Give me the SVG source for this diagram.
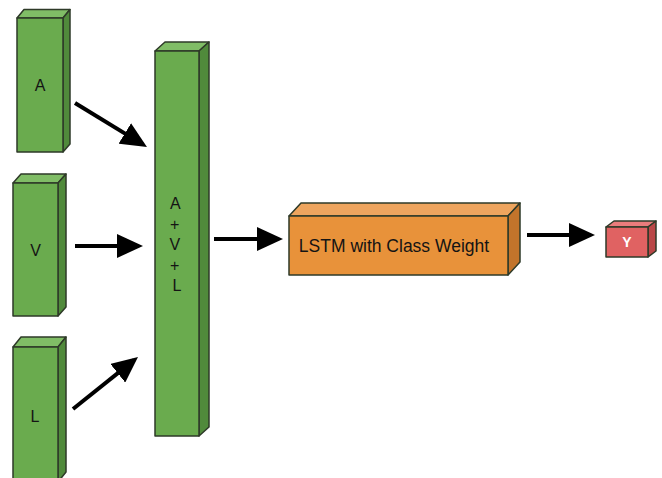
<svg xmlns="http://www.w3.org/2000/svg" width="662" height="478" viewBox="0 0 662 478">
  <style>
    .edge { stroke: #2e3a28; stroke-width: 1.5; stroke-linejoin: round; }
    .g-front { fill: #6aab4e; }
    .g-top { fill: #80bd66; }
    .g-side { fill: #508a3b; }
    .o-front { fill: #e8923a; }
    .o-top { fill: #eea55e; }
    .o-side { fill: #c2742b; }
    .r-front { fill: #e06262; }
    .r-top { fill: #ea7c7c; }
    .r-side { fill: #b94747; }
    .lbl { font-family: "Liberation Sans", Arial, sans-serif; fill: #141414; text-anchor: middle; }
    .arrow { stroke: #000; stroke-width: 4; fill: none; marker-end: url(#head); }
  </style>
  <defs>
    <marker id="head" markerUnits="userSpaceOnUse" markerWidth="28" markerHeight="24" refX="21" refY="12" orient="auto">
      <path d="M0,0 L26,12 L0,24 z" fill="#000"/>
    </marker>
  </defs>
  <rect width="662" height="478" fill="#ffffff"/>

  <!-- input block A -->
  <g id="node-a">
    <path class="g-top edge" d="M17,18 L24,9.5 L70,9.5 L63,18 z"/>
    <path class="g-side edge" d="M63,18 L70,9.5 L70,144 L63,152 z"/>
    <rect class="g-front edge" x="17" y="18" width="46" height="134"/>
    <text class="lbl" x="40" y="91" font-size="16">A</text>
  </g>

  <!-- input block V -->
  <g id="node-v">
    <path class="g-top edge" d="M13,183 L21,174 L66,174 L58,183 z"/>
    <path class="g-side edge" d="M58,183 L66,174 L66,307 L58,316 z"/>
    <rect class="g-front edge" x="13" y="183" width="45" height="133"/>
    <text class="lbl" x="35.5" y="255.5" font-size="16">V</text>
  </g>

  <!-- input block L -->
  <g id="node-l">
    <path class="g-top edge" d="M13,347 L21,337 L66,337 L58,347 z"/>
    <path class="g-side edge" d="M58,347 L66,337 L66,472 L58,482 z"/>
    <rect class="g-front edge" x="13" y="347" width="45" height="135"/>
    <text class="lbl" x="35" y="421.5" font-size="16">L</text>
  </g>

  <!-- fused block A + V + L -->
  <g id="node-fusion">
    <path class="g-top edge" d="M155,51 L165,42 L209,42 L199,51 z"/>
    <path class="g-side edge" d="M199,51 L209,42 L209,427 L199,436 z"/>
    <rect class="g-front edge" x="155" y="51" width="44" height="385"/>
    <text class="lbl" font-size="16">
      <tspan x="177" y="209">A</tspan>
      <tspan x="177" y="229.5">+</tspan>
      <tspan x="177" y="250">V</tspan>
      <tspan x="177" y="270.5">+</tspan>
      <tspan x="177" y="291">L</tspan>
    </text>
  </g>

  <!-- LSTM block -->
  <g id="node-lstm">
    <path class="o-top edge" d="M289,216 L301,203 L520,203 L508,216 z"/>
    <path class="o-side edge" d="M508,216 L520,203 L520,262 L508,275 z"/>
    <rect class="o-front edge" x="289" y="216" width="219" height="59"/>
    <text class="lbl" x="394" y="252" font-size="17.5">LSTM with Class Weight</text>
  </g>

  <!-- output block Y -->
  <g id="node-y">
    <path class="r-top edge" d="M606,227 L614,221 L656,221 L648,227 z"/>
    <path class="r-side edge" d="M648,227 L656,221 L656,251 L648,257 z"/>
    <rect class="r-front edge" x="606" y="227" width="42" height="30"/>
    <text class="lbl" x="627" y="246.5" font-size="14" font-weight="bold" style="fill:#ffffff">Y</text>
  </g>

  <!-- connectors -->
  <g id="connectors">
    <line class="arrow" x1="75" y1="103" x2="142.7" y2="144.4"/>
    <line class="arrow" x1="75" y1="246" x2="138" y2="246"/>
    <line class="arrow" x1="73" y1="409" x2="134.1" y2="360.1"/>
    <line class="arrow" x1="214" y1="239" x2="278" y2="239"/>
    <line class="arrow" x1="527" y1="235" x2="590" y2="235"/>
  </g>
</svg>
